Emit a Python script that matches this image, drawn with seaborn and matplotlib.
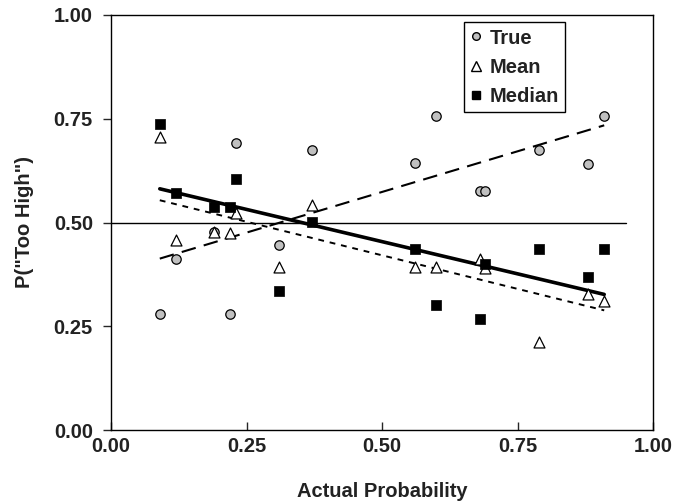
import numpy as np
import pandas as pd
import seaborn as sns
import matplotlib
matplotlib.use("Agg")
import matplotlib.pyplot as plt
from matplotlib.lines import Line2D

actual = [0.09, 0.12, 0.19, 0.22, 0.23, 0.31, 0.37, 0.56, 0.60, 0.68, 0.69, 0.79, 0.88, 0.91]
true_vals = [0.280, 0.412, 0.477, 0.280, 0.692, 0.445, 0.675, 0.643, 0.757, 0.577, 0.577, 0.675, 0.642, 0.757]
mean_vals = [0.705, 0.459, 0.477, 0.475, 0.522, 0.392, 0.541, 0.392, 0.392, 0.412, 0.390, 0.213, 0.328, 0.312]
median_vals = [0.737, 0.570, 0.537, 0.537, 0.604, 0.336, 0.501, 0.435, 0.302, 0.268, 0.401, 0.435, 0.369, 0.435]
series_names = ["True", "Mean", "Median"]
xticks = [0.00, 0.25, 0.50, 0.75, 1.00]
yticks = [0.00, 0.25, 0.50, 0.75, 1.00]

df = pd.DataFrame({"actual": actual, "True": true_vals, "Mean": mean_vals, "Median": median_vals})

sns.set_style("ticks")
plt.rcParams['font.family'] = ['Liberation Sans', 'DejaVu Sans']
plt.rcParams['font.weight'] = 'bold'

FS = 14.5

fig = plt.figure(figsize=(6.85, 5.04), dpi=100)
ax = fig.add_axes([111/685, 74/504, 542/685, 415/504])

# reference line at 0.5
ax.plot([0.0, 0.95], [0.5, 0.5], color='black', lw=1.0, zorder=1)

# regression lines
sns.regplot(data=df, x="actual", y="True", scatter=False, ci=None, truncate=True, ax=ax,
            line_kws=dict(color='black', lw=1.5, ls=(0, (7, 4)), zorder=2))
sns.regplot(data=df, x="actual", y="Mean", scatter=False, ci=None, truncate=True, ax=ax,
            line_kws=dict(color='black', lw=1.4, ls=(0, (3, 3)), zorder=2))
sns.regplot(data=df, x="actual", y="Median", scatter=False, ci=None, truncate=True, ax=ax,
            line_kws=dict(color='black', lw=2.6, ls='-', zorder=2))

# scatter points
sns.scatterplot(data=df, x="actual", y="True", ax=ax, marker='o', s=46, color='#c0c0c0',
                edgecolor='black', linewidth=0.9, zorder=3, legend=False)
sns.scatterplot(data=df, x="actual", y="Mean", ax=ax, marker='^', s=62, color='white',
                edgecolor='black', linewidth=0.9, zorder=4, legend=False)
sns.scatterplot(data=df, x="actual", y="Median", ax=ax, marker='s', s=54, color='black',
                edgecolor='black', linewidth=0.5, zorder=5, legend=False)

ax.set_xlim(0, 1)
ax.set_ylim(0, 1)
ax.set_xticks(xticks)
ax.set_yticks(yticks)
ax.set_xticklabels([f"{t:.2f}" for t in xticks], fontsize=FS, fontweight='bold', color='#222222')
ax.set_yticklabels([f"{t:.2f}" for t in yticks], fontsize=FS, fontweight='bold', color='#222222')
ax.tick_params(axis='x', direction='in', length=6, width=1, pad=5)
ax.tick_params(axis='y', direction='out', length=6, width=1, pad=7)
for sp in ax.spines.values():
    sp.set_linewidth(1.0)
    sp.set_color('black')
ax.set_xlabel("Actual Probability", fontsize=FS, fontweight='bold', labelpad=19, color='#222222')
ax.set_ylabel('P("Too High")', fontsize=FS, fontweight='bold', labelpad=14, color='#222222')

handles = [
    Line2D([], [], marker='o', ls='none', markerfacecolor='#c0c0c0', markeredgecolor='black', markersize=5.5),
    Line2D([], [], marker='^', ls='none', markerfacecolor='white', markeredgecolor='black', markersize=6.5),
    Line2D([], [], marker='s', ls='none', markerfacecolor='black', markeredgecolor='black', markersize=5.5),
]
leg = ax.legend(handles, series_names, loc='upper left', bbox_to_anchor=(0.652, 0.982),
                frameon=True, fancybox=False, edgecolor='black', framealpha=1,
                prop=dict(size=FS, weight='bold'), handlelength=0.6, handletextpad=0.35,
                labelspacing=0.5, borderpad=0.3, borderaxespad=0.0)
leg.get_frame().set_linewidth(1.0)
for t in leg.get_texts():
    t.set_color('#222222')

fig.savefig("out.png", dpi=100)
